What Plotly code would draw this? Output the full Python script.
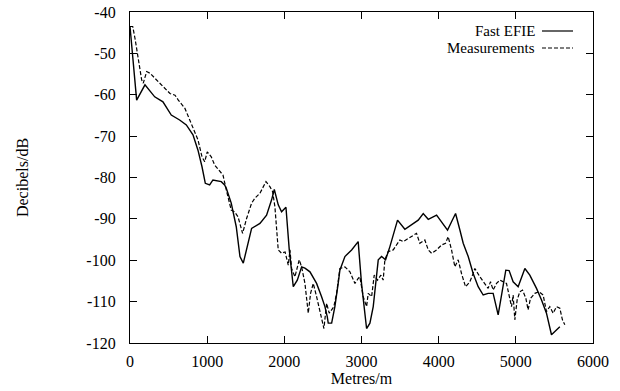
import plotly.graph_objects as go

fast_x = [0, 86, 194, 320, 427, 470, 535, 643, 730, 816, 881, 933, 976, 1032, 1075, 1183, 1226, 1248,
          1312, 1377, 1425, 1468, 1576, 1684, 1770, 1835, 1870, 1921, 1964, 2021, 2064, 2116, 2168,
          2224, 2267, 2332, 2418, 2483, 2526, 2556, 2569, 2613, 2655, 2698, 2720, 2785, 2872, 2957,
          3000, 3066, 3109, 3152, 3195, 3217, 3260, 3312, 3368, 3424, 3467, 3562, 3649, 3735, 3800,
          3865, 3973, 4038, 4115, 4167, 4219, 4275, 4318, 4383, 4447, 4512, 4577, 4641, 4706, 4771,
          4815, 4870, 4913, 4965, 5030, 5117, 5181, 5268, 5333, 5397, 5462, 5527, 5570]
fast_y = [-43.5, -61.3, -57.6, -60.5, -61.7, -62.9, -64.9, -66.1, -67.3, -69.7, -73.4, -77.4, -81.4,
          -81.8, -80.6, -81.0, -81.8, -82.6, -86.2, -91.9, -99.1, -100.7, -92.3, -91.1, -89.1, -85.4,
          -82.9, -86.6, -88.3, -87.2, -97.5, -106.4, -104.8, -101.6, -101.9, -102.8, -105.6, -108.8,
          -111.2, -113.6, -115.2, -115.2, -111.2, -105.6, -102.4, -99.1, -97.5, -95.5, -105.6, -116.5,
          -115.2, -111.2, -104.0, -99.9, -99.1, -99.9, -96.7, -93.1, -90.3, -92.5, -91.5, -90.3, -88.7,
          -90.1, -89.1, -90.7, -92.7, -90.7, -88.7, -92.7, -95.9, -99.1, -103.2, -106.4, -108.4, -108.0,
          -108.0, -113.2, -108.0, -102.4, -102.5, -105.2, -106.4, -102.0, -103.6, -106.8, -109.6,
          -112.8, -118.0, -116.9, -116.1]

meas_x = [0, 35, 65, 108, 151, 172, 216, 259, 302, 367, 453, 518, 583, 626, 712, 777, 842, 881, 933,
          968, 1001, 1053, 1097, 1162, 1205, 1248, 1312, 1356, 1400, 1459, 1511, 1576, 1619, 1684,
          1762, 1813, 1848, 1878, 1900, 1921, 1964, 2010, 2051, 2073, 2094, 2137, 2193, 2224, 2267,
          2310, 2340, 2375, 2418, 2483, 2513, 2548, 2582, 2642, 2677, 2720, 2785, 2850, 2915, 2957,
          2979, 3022, 3066, 3087, 3131, 3165, 3208, 3251, 3281, 3303, 3346, 3411, 3497, 3540, 3605,
          3670, 3713, 3756, 3821, 3865, 3908, 3973, 4038, 4089, 4123, 4167, 4210, 4253, 4296, 4348,
          4404, 4447, 4469, 4534, 4598, 4641, 4672, 4706, 4750, 4793, 4879, 4913, 4944, 4965, 4987,
          5017, 5052, 5087, 5130, 5159, 5190, 5246, 5301, 5354, 5397, 5440, 5483, 5527, 5570, 5604,
          5635]
meas_y = [-43.5, -43.5, -46.4, -52.0, -56.4, -57.2, -54.4, -54.8, -55.6, -56.8, -58.4, -59.7, -60.1,
          -61.3, -63.3, -66.1, -68.9, -70.9, -75.0, -76.2, -73.8, -75.0, -77.0, -78.6, -79.4, -83.0,
          -87.9, -88.3, -89.5, -93.5, -89.9, -86.2, -85.0, -83.8, -81.0, -82.2, -83.4, -87.1, -91.9,
          -97.5, -98.3, -98.0, -101.2, -97.5, -102.0, -104.0, -99.9, -101.6, -105.6, -112.8, -108.0,
          -105.6, -108.8, -113.6, -116.5, -110.4, -112.8, -111.2, -108.0, -102.0, -101.6, -102.8,
          -105.6, -104.4, -104.0, -108.8, -111.2, -108.0, -108.8, -103.6, -104.8, -103.6, -104.8,
          -99.9, -97.9, -97.5, -95.1, -95.5, -94.7, -94.1, -93.5, -95.9, -95.1, -97.5, -98.3, -97.5,
          -96.3, -95.9, -94.3, -97.5, -101.6, -99.9, -103.2, -106.4, -105.2, -103.2, -102.0, -104.0,
          -105.6, -106.8, -105.2, -107.2, -105.6, -104.8, -105.6, -108.8, -111.2, -108.4, -114.4,
          -109.6, -107.6, -107.2, -109.2, -112.0, -109.2, -108.0, -107.6, -108.4, -112.4, -111.2,
          -112.8, -111.2, -111.6, -114.4, -115.6]

x_ticks = [0, 1000, 2000, 3000, 4000, 5000, 6000]
y_ticks = [-40, -50, -60, -70, -80, -90, -100, -110, -120]
series_names = ["Fast EFIE", "Measurements"]

FONT = "Liberation Serif"

fig = go.Figure()
fig.add_trace(go.Scatter(x=fast_x, y=fast_y, mode="lines", name=series_names[0],
                         line=dict(color="black", width=1.4), showlegend=False))
fig.add_trace(go.Scatter(x=meas_x, y=meas_y, mode="lines", name=series_names[1],
                         line=dict(color="black", width=1.2, dash="4px,2px"), showlegend=False))

axis_common = dict(showgrid=False, zeroline=False, showline=True, linecolor="black", linewidth=1.2,
                   mirror="allticks", ticks="inside", ticklen=7, tickcolor="black", tickwidth=1.2,
                   automargin=False,
                   tickfont=dict(family=FONT, size=16, color="black"))

fig.update_xaxes(range=[0, 6000], tickvals=x_ticks, ticktext=[str(v) for v in x_ticks],
                 title=dict(text="Metres/m", font=dict(family=FONT, size=16, color="black"), standoff=0),
                 ticklabelstandoff=4, **axis_common)
fig.update_yaxes(range=[-120, -40], tickvals=y_ticks, ticktext=[str(v) for v in y_ticks],
                 title=dict(text="Decibels/dB", font=dict(family=FONT, size=16, color="black"), standoff=53),
                 ticklabelstandoff=10, **axis_common)

# legend drawn as text + sample lines (reference style: text left, sample right)
W, H = 620, 391
PL, PT, PW, PH = 130, 12, 463, 331
leg_y = [31, 48]
dashes = ["solid", "4px,2px"]
for name, yy, d in zip(series_names, leg_y, dashes):
    yp = 1 - (yy - PT) / PH
    fig.add_annotation(text=name, xref="paper", yref="paper", x=(537 - PL) / PW, y=yp,
                       xanchor="right", yanchor="middle", showarrow=False,
                       font=dict(family=FONT, size=15, color="black"))
    fig.add_shape(type="line", xref="paper", yref="paper",
                  x0=(542 - PL) / PW, x1=(573 - PL) / PW, y0=yp, y1=yp,
                  line=dict(color="black", width=1.2, dash=d))

fig.update_layout(width=W, height=H, margin=dict(l=PL, r=W - PL - PW, t=PT, b=H - PT - PH),
                  paper_bgcolor="white", plot_bgcolor="white",
                  font=dict(family=FONT, size=16, color="black"))

fig.write_html("out.html", config={"displayModeBar": False},
               post_script="document.body.style.margin='0';document.body.style.overflow='hidden';")
